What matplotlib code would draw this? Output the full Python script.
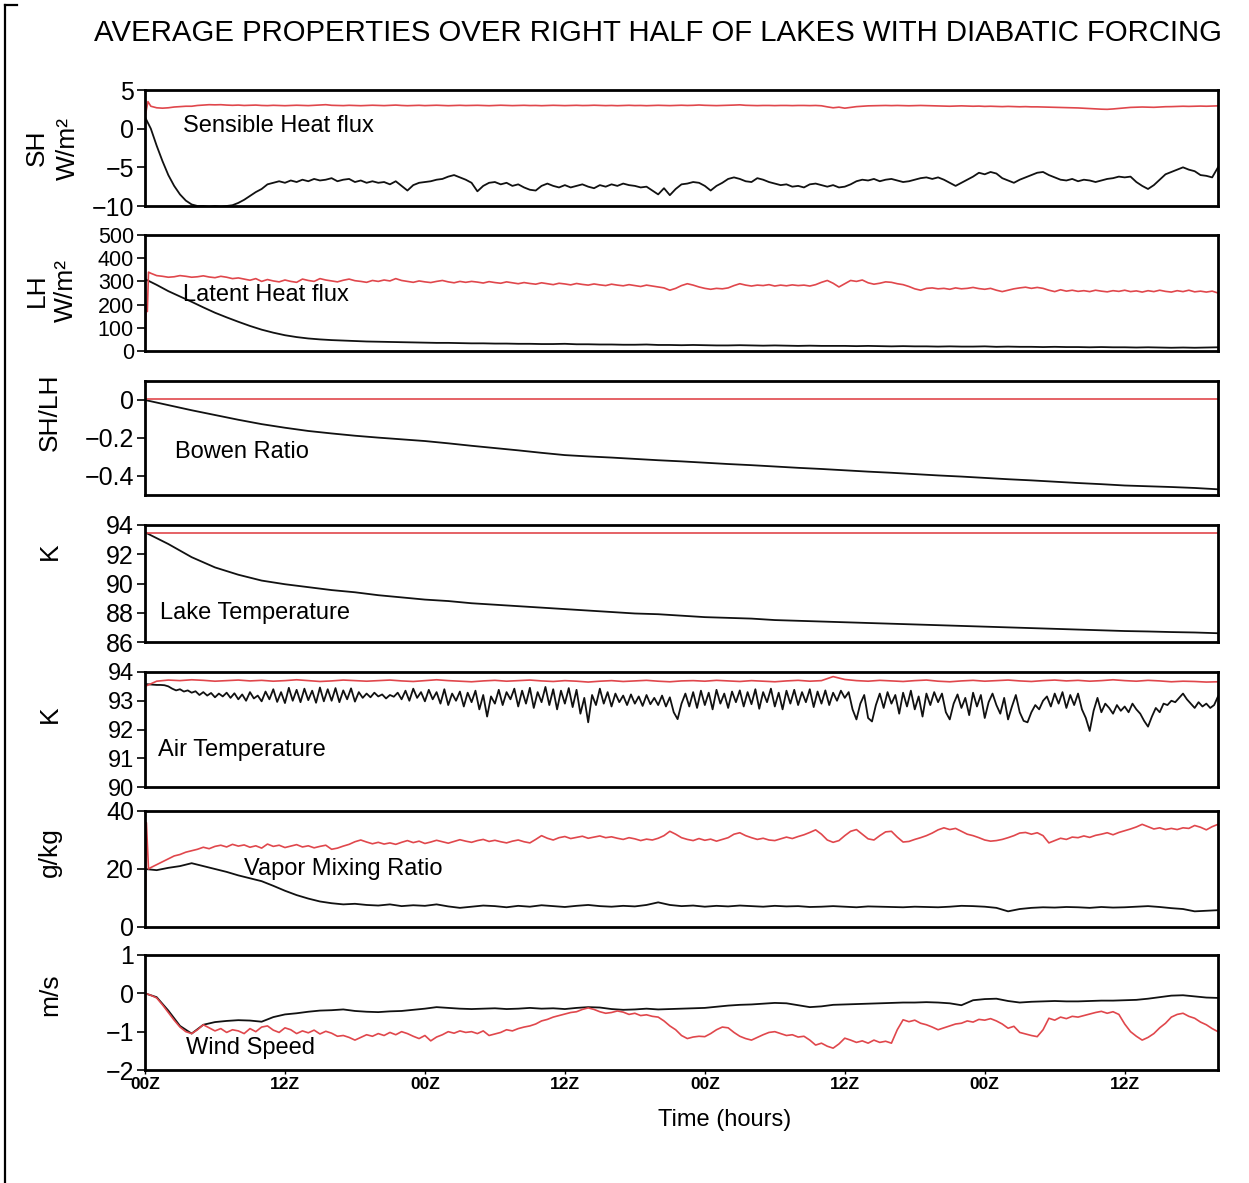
"""Average properties over right half of lakes with diabatic forcing (7 stacked panels)."""

import matplotlib

matplotlib.use("Agg")
import matplotlib.pyplot as plt
import numpy as np
from matplotlib.lines import Line2D

# ---------------------------------------------------------------- time grids (hours since 00Z)
HALF = np.arange(0, 92.01, 0.5)       # 185 points
HALF_FROM = HALF[1:]                  # 184 points, from 0.5 h
FULL = np.arange(0, 93, 1.0)          # 93 points
TWO = np.arange(0, 93, 2.0)           # 47 points
THIRD = np.arange(277) / 3.0          # 277 points

XTICK_HOURS = [0, 12, 24, 36, 48, 60, 72, 84]
XTICK_LABELS = ["00Z", "12Z", "00Z", "12Z", "00Z", "12Z", "00Z", "12Z"]

# ---------------------------------------------------------------- sensible heat flux (W/m2)
SH_RED_START_H = [0.0, 0.25]
SH_RED_START = [1.5, 3.5]
SH_RED = [
    2.9, 2.7, 2.65, 2.7, 2.8, 2.85, 2.9, 2.9,
    3.0, 3.05, 3.1, 3.08, 3.1, 3.05, 3.02, 3.05,
    3.0, 3.02, 3.05, 3.0, 2.98, 3.02, 3.0, 2.97,
    3.0, 3.03, 3.0, 2.98, 3.02, 3.05, 3.1, 3.02,
    3.0, 2.98, 3.02, 3.0, 2.97, 3.0, 3.03, 3.0,
    2.98, 3.02, 3.05, 3.0, 2.97, 3.0, 3.02, 2.98,
    3.0, 3.03, 3.0, 2.97, 3.0, 3.02, 2.99, 3.0,
    3.02, 3.0, 2.97, 3.0, 3.03, 3.0, 2.98, 3.0,
    3.02, 2.99, 3.0, 2.97, 3.0, 3.02, 3.0, 2.98,
    3.0, 3.02, 2.99, 3.0, 3.03, 3.0, 2.98, 3.0,
    2.97, 3.0, 3.02, 2.99, 3.0, 2.97, 3.0, 3.02,
    3.0, 2.98, 3.0, 3.03, 3.0, 3.02, 3.06, 3.02,
    3.0, 2.98, 3.0, 3.02, 3.05, 3.08, 3.02, 3.0,
    2.98, 3.0, 3.0, 2.98, 3.0, 3.0, 2.98, 3.0,
    3.0, 2.98, 3.0, 2.96, 2.82, 2.7, 2.78, 2.65,
    2.75, 2.85, 2.9, 2.95, 2.97, 2.98, 3.0, 2.98,
    3.0, 2.98, 2.96, 2.98, 3.0, 2.98, 2.96, 2.95,
    2.92, 2.9, 2.93, 2.95, 2.92, 2.9, 2.92, 2.88,
    2.9, 2.87, 2.85, 2.88, 2.86, 2.83, 2.85, 2.82,
    2.82, 2.8, 2.78, 2.76, 2.74, 2.72, 2.7, 2.68,
    2.64, 2.6, 2.55, 2.52, 2.5, 2.55, 2.62, 2.7,
    2.75, 2.78, 2.8, 2.78, 2.76, 2.8, 2.84, 2.85,
    2.88, 2.9, 2.88, 2.9, 2.92, 2.9, 2.92, 2.95,
]
SH_BLACK = [
    1.5, 0.0, -2.2, -4.2, -6.0, -7.4, -8.5, -9.3,
    -9.8, -10.0, -10.0, -10.1, -10.0, -10.1, -10.0, -9.9,
    -9.6, -9.2, -8.7, -8.2, -7.8, -7.2, -7.0, -6.8,
    -7.0, -6.7, -6.9, -6.6, -6.8, -6.5, -6.7, -6.6,
    -6.4, -6.8, -6.6, -6.5, -6.9, -6.7, -7.0, -6.8,
    -7.0, -6.9, -7.2, -6.8, -7.4, -8.0, -7.3, -7.0,
    -6.9, -6.8, -6.6, -6.5, -6.2, -6.0, -6.3, -6.6,
    -7.0, -8.1, -7.4, -7.0, -6.9, -7.2, -7.0, -7.4,
    -7.2, -7.6, -7.9, -8.0, -7.4, -7.1, -7.4, -7.6,
    -7.3, -7.6, -7.4, -7.2, -7.5, -7.7, -7.3, -7.5,
    -7.2, -7.4, -7.1, -7.3, -7.4, -7.6, -7.5, -8.0,
    -8.5, -7.7, -8.6, -7.8, -7.2, -7.1, -6.9, -7.0,
    -7.4, -8.0, -7.4, -7.0, -6.5, -6.3, -6.5, -6.8,
    -6.9, -6.4, -6.6, -6.9, -7.1, -7.3, -7.2, -7.5,
    -7.4, -7.6, -7.2, -7.1, -7.3, -7.5, -7.3, -7.6,
    -7.5, -7.2, -6.8, -6.6, -6.7, -6.5, -6.8, -6.6,
    -6.5, -6.7, -6.9, -6.8, -6.6, -6.4, -6.3, -6.5,
    -6.3, -6.6, -7.0, -7.4, -7.0, -6.6, -6.2, -5.7,
    -5.9, -5.6, -5.8, -6.4, -6.7, -7.0, -6.6, -6.3,
    -6.0, -5.7, -5.6, -6.0, -6.3, -6.6, -6.7, -6.5,
    -6.8, -6.6, -6.7, -6.9, -6.7, -6.5, -6.4, -6.2,
    -6.3, -6.2, -6.9, -7.4, -7.8, -7.3, -6.6, -5.9,
    -5.6, -5.3, -5.0, -5.3, -5.5, -6.0, -6.1, -6.3,
    -5.0,
]

# ---------------------------------------------------------------- latent heat flux (W/m2)
LH_RED_START_H = [0.0, 0.1, 0.2, 0.3]
LH_RED_START = [0, 200, 170, 340]
LH_RED = [
    335, 325, 322, 318, 320, 325, 322, 318,
    320, 324, 319, 316, 322, 318, 312, 315,
    310, 305, 312, 300, 308, 302, 298, 306,
    300, 296, 310, 304, 300, 312, 306, 302,
    298, 305, 310, 303, 300, 296, 304, 300,
    306, 302, 312, 304, 300, 296, 302, 298,
    295, 300, 304, 298, 294, 300, 296, 300,
    297, 293, 299, 295, 292, 298, 294, 290,
    295, 291, 288, 294, 290, 286, 292, 289,
    285, 291, 287, 284, 289, 285, 282, 288,
    284, 281, 286, 282, 278, 284, 280, 276,
    272, 262, 270, 282, 290, 284, 276, 270,
    266, 270, 268, 272, 282, 290, 284, 280,
    284, 282, 286, 280, 284, 281, 285, 282,
    284, 280, 286, 296, 304, 292, 276, 290,
    304, 300, 306, 294, 288, 292, 298, 296,
    290, 286, 278, 268, 262, 270, 272, 268,
    270, 266, 272, 268, 270, 274, 269, 266,
    270, 262, 256, 262, 268, 272, 275, 270,
    274, 270, 262, 256, 264, 258, 262, 257,
    260, 256, 262, 258, 255, 260, 257, 262,
    256, 259, 254, 260, 256, 262, 257, 254,
    260, 256, 262, 255, 258, 254, 258, 250,
]
LH_BLACK = [
    310, 285, 258, 235, 212, 188, 165, 145, 126, 108,
    92, 79, 68, 60, 54, 50, 47, 45, 43, 41,
    40, 39, 38, 37, 36, 35, 35, 34, 33, 33,
    32, 32, 31, 31, 30, 30, 31, 29, 29, 28,
    28, 27, 27, 28, 26, 26, 25, 26, 25, 24,
    24, 25, 24, 23, 24, 23, 22, 23, 22, 22,
    22, 21, 22, 21, 20, 21, 20, 20, 19, 20,
    19, 19, 20, 18, 19, 18, 18, 17, 18, 17,
    17, 16, 17, 16, 16, 15, 16, 15, 14, 15,
    14, 15, 16,
]

# ---------------------------------------------------------------- Bowen ratio (SH/LH)
BOWEN_RED = [0.005] * 47
BOWEN_BLACK = [
    0.0, -0.027, -0.054, -0.079, -0.104, -0.127, -0.146, -0.163, -0.176, -0.188,
    -0.198, -0.207, -0.216, -0.228, -0.241, -0.253, -0.265, -0.278, -0.29, -0.297,
    -0.303, -0.31, -0.317, -0.323, -0.33, -0.337, -0.343, -0.35, -0.357, -0.363,
    -0.37, -0.377, -0.383, -0.39, -0.397, -0.403, -0.41, -0.417, -0.423, -0.43,
    -0.437, -0.443, -0.45, -0.454, -0.458, -0.463, -0.47,
]

# ---------------------------------------------------------------- lake temperature (K)
LAKE_RED = [93.45] * 47
LAKE_BLACK = [
    93.5, 92.7, 91.8, 91.1, 90.6, 90.2, 89.95, 89.75, 89.55, 89.4,
    89.2, 89.05, 88.9, 88.8, 88.65, 88.55, 88.45, 88.35, 88.25, 88.15,
    88.05, 87.95, 87.9, 87.8, 87.7, 87.65, 87.6, 87.5, 87.45, 87.4,
    87.35, 87.3, 87.25, 87.2, 87.15, 87.1, 87.05, 87.0, 86.95, 86.9,
    86.85, 86.8, 86.75, 86.72, 86.68, 86.65, 86.6,
]

# ---------------------------------------------------------------- air temperature (K)
AIR_RED = [
    93.50, 93.68, 93.72, 93.70, 93.73, 93.71, 93.68, 93.70, 93.72, 93.69,
    93.71, 93.68, 93.70, 93.73, 93.70, 93.67, 93.69, 93.72, 93.70, 93.68,
    93.70, 93.72, 93.69, 93.67, 93.70, 93.73, 93.70, 93.68, 93.66, 93.69,
    93.71, 93.68, 93.70, 93.72, 93.69, 93.67, 93.70, 93.68, 93.65, 93.68,
    93.70, 93.67, 93.69, 93.71, 93.68, 93.66, 93.69, 93.70, 93.68, 93.71,
    93.69, 93.67, 93.70, 93.68, 93.66, 93.69, 93.71, 93.68, 93.70, 93.84,
    93.74, 93.70, 93.68, 93.71, 93.69, 93.67, 93.70, 93.72, 93.68, 93.66,
    93.69, 93.71, 93.68, 93.70, 93.72, 93.69, 93.67, 93.70, 93.72, 93.69,
    93.71, 93.68, 93.70, 93.73, 93.70, 93.68, 93.71, 93.69, 93.66, 93.68,
    93.67, 93.65, 93.66,
]
AIR_BLACK = [
    93.58, 93.57, 93.56, 93.55, 93.55, 93.54, 93.50, 93.42, 93.36, 93.40, 93.32, 93.36,
    93.28, 93.33, 93.20, 93.30, 93.18, 93.27, 93.12, 93.25, 93.15, 93.28, 93.10, 93.26,
    93.05, 93.22, 93.00, 93.30, 93.08, 93.18, 92.98, 93.32, 93.05, 93.40, 92.96, 93.30,
    92.92, 93.45, 93.00, 93.38, 92.95, 93.42, 93.02, 93.35, 92.93, 93.46, 92.98, 93.40,
    93.00, 93.44, 92.95, 93.36, 93.05, 93.43, 92.97, 93.30, 93.10, 93.25, 93.12, 93.28,
    93.15, 93.22, 93.08, 93.20, 93.14, 93.28, 93.05, 93.35, 93.00, 93.42, 93.10, 93.30,
    92.98, 93.38, 93.05, 93.30, 92.90, 93.40, 92.85, 93.25, 93.00, 93.32, 92.80, 93.28,
    92.95, 93.35, 92.70, 93.20, 92.45, 93.15, 92.90, 93.38, 92.85, 93.30, 93.05, 93.42,
    92.80, 93.35, 92.90, 93.45, 92.75, 93.30, 92.95, 93.48, 92.85, 93.40, 92.70, 93.35,
    92.90, 93.44, 92.78, 93.38, 92.55, 93.10, 92.25, 93.20, 92.85, 93.42, 92.90, 93.30,
    92.80, 93.25, 92.95, 93.18, 92.85, 93.22, 92.90, 93.15, 92.82, 93.20, 92.88, 93.10,
    92.85, 93.18, 92.80, 93.12, 92.60, 92.36, 92.90, 93.25, 92.80, 93.30, 92.75, 93.35,
    92.85, 93.28, 92.70, 93.38, 92.90, 93.25, 92.75, 93.32, 92.95, 93.36, 92.80, 93.30,
    92.88, 93.40, 92.72, 93.30, 92.95, 93.42, 92.80, 93.28, 92.70, 93.35, 92.90, 93.38,
    92.85, 93.30, 92.95, 93.40, 92.78, 93.32, 92.90, 93.36, 92.85, 93.28, 93.00, 93.35,
    93.10, 93.30, 92.70, 92.35, 92.90, 93.20, 92.40, 92.28, 92.85, 93.25, 92.75, 93.30,
    92.90, 93.20, 92.55, 93.28, 92.80, 93.35, 92.70, 93.15, 92.45, 93.25, 92.85, 93.30,
    92.95, 93.25, 92.60, 92.35, 92.90, 93.22, 92.75, 93.10, 92.50, 93.28, 92.80, 93.20,
    92.40, 92.95, 93.25, 92.85, 92.55, 93.10, 92.35, 92.80, 93.20, 92.60, 92.30, 92.25,
    92.60, 92.85, 92.70, 93.00, 93.15, 92.80, 93.25, 92.90, 93.30, 92.75, 93.20, 92.85,
    93.25, 92.70, 92.40, 91.95, 92.65, 93.10, 92.60, 92.90, 92.75, 92.55, 92.85, 92.65,
    92.80, 92.60, 92.90, 92.70, 92.55, 92.30, 92.10, 92.45, 92.75, 92.60, 92.90, 92.85,
    93.00, 92.95, 93.10, 93.25, 93.05, 92.90, 92.75, 92.95, 92.80, 92.90, 92.75, 92.85,
    93.15,
]

# ---------------------------------------------------------------- vapor mixing ratio (g/kg)
VAP_RED_START_H = [0.0, 0.12, 0.3]
VAP_RED_START = [0.0, 36.0, 20.0]
VAP_RED = [
    20.5, 21.5, 22.5, 23.5, 24.5, 25.0, 25.8, 26.3,
    26.8, 27.5, 27.0, 27.8, 28.2, 27.6, 28.5, 27.9,
    28.3, 27.5, 28.0, 27.2, 28.6, 27.8, 28.2, 27.4,
    27.9, 28.4, 27.6, 28.0, 27.3, 27.8, 28.2, 26.8,
    27.2, 27.9, 28.5, 29.4, 30.0, 29.3, 28.7, 29.2,
    28.6, 29.0, 28.5, 29.2, 29.8, 29.1, 29.6, 28.8,
    29.3, 29.9, 29.4, 28.9, 29.5, 30.1, 29.6, 29.2,
    29.8, 30.2, 29.5, 29.9, 29.4, 29.0, 29.6, 30.0,
    29.4, 29.0, 30.2, 31.5, 30.6, 30.0, 30.8, 31.2,
    30.5, 30.9, 31.3, 30.6, 31.0, 31.4, 30.8, 31.1,
    30.6, 30.2, 30.8, 30.4, 29.8, 30.3, 30.0, 30.6,
    31.5, 33.0, 32.0, 30.8, 30.2, 29.8, 30.5, 29.9,
    30.3, 29.6, 30.2, 30.8, 32.0, 32.5, 31.5, 30.8,
    30.2, 30.6, 30.0, 29.8, 30.4, 31.0, 30.5, 31.2,
    31.8, 32.6, 33.5, 32.0, 30.0, 29.2, 29.8, 31.5,
    33.0, 33.6, 32.0, 30.4, 30.0, 31.5, 32.8, 33.0,
    31.0, 29.3, 29.5, 30.2, 30.8, 31.5, 32.4, 33.5,
    34.2, 33.6, 34.0, 33.0, 32.0, 31.5, 30.8, 30.0,
    29.6, 29.8, 30.2, 30.8, 31.5, 32.4, 32.6, 32.0,
    32.5, 31.5, 29.0, 29.8, 30.6, 30.2, 31.0, 30.8,
    31.4, 30.9, 31.6, 32.0, 32.5, 31.8, 32.6, 33.2,
    33.8, 34.5, 35.4, 34.6, 33.8, 34.2, 33.6, 34.0,
    33.6, 34.2, 34.0, 35.0, 34.4, 33.5, 34.6, 35.4,
]
VAP_BLACK = [
    20.0, 19.6, 20.4, 21.0, 22.0, 21.0, 20.0, 19.0, 17.8, 16.8,
    15.8, 14.2, 12.5, 11.0, 9.8, 8.8, 8.2, 7.8, 8.0, 7.6,
    7.4, 7.8, 7.2, 7.5, 7.3, 7.8, 7.1, 6.6, 7.0, 7.4,
    7.2, 6.8, 7.3, 7.0, 7.5, 7.2, 6.9, 7.3, 7.6, 7.2,
    7.0, 7.3, 7.1, 7.6, 8.5, 7.6, 7.2, 7.4, 7.0, 7.3,
    7.1, 7.4, 7.2, 7.0, 7.3, 7.1, 7.2, 6.9, 7.0, 7.2,
    7.0, 6.8, 7.1, 7.0, 6.9, 6.8, 7.0, 6.9, 6.8, 7.0,
    7.3, 7.2, 7.0, 6.6, 5.4, 6.2, 6.6, 6.8, 6.7, 6.9,
    6.8, 6.6, 6.9, 6.7, 6.8, 7.0, 7.2, 6.9, 6.5, 6.2,
    5.4, 5.6, 5.8,
]

# ---------------------------------------------------------------- wind speed (m/s)
WIND_RED = [
    0.0, -0.05, -0.12, -0.30, -0.50, -0.70, -0.88, -1.0,
    -1.05, -0.95, -0.82, -0.90, -0.98, -0.92, -1.02, -0.95,
    -0.98, -1.05, -0.92, -1.0, -0.88, -0.85, -0.96, -1.02,
    -0.90, -0.95, -1.05, -0.98, -1.03, -0.96, -1.06, -0.99,
    -1.04, -1.12, -1.10, -1.15, -1.22, -1.15, -1.08, -1.12,
    -1.05, -1.10, -1.02, -1.08, -1.0, -1.05, -1.12, -1.18,
    -1.10, -1.24, -1.14, -1.08, -1.0, -1.04, -0.98, -1.02,
    -1.0, -1.05, -0.98, -1.10, -1.06, -1.02, -0.95, -0.98,
    -0.92, -0.88, -0.85, -0.80, -0.72, -0.68, -0.62, -0.58,
    -0.54, -0.50, -0.48, -0.42, -0.38, -0.42, -0.48, -0.52,
    -0.50, -0.46, -0.49, -0.55, -0.52, -0.58, -0.56, -0.60,
    -0.62, -0.72, -0.85, -0.95, -1.10, -1.18, -1.14, -1.12,
    -1.13, -1.05, -0.95, -0.88, -0.90, -1.02, -1.12, -1.18,
    -1.22, -1.15, -1.08, -1.02, -1.0, -1.05, -1.10, -1.08,
    -1.14, -1.12, -1.22, -1.35, -1.30, -1.38, -1.43, -1.32,
    -1.17, -1.22, -1.28, -1.24, -1.30, -1.22, -1.28, -1.25,
    -1.30, -0.95, -0.69, -0.74, -0.70, -0.78, -0.82, -0.88,
    -0.95, -0.90, -0.85, -0.80, -0.78, -0.72, -0.75, -0.68,
    -0.70, -0.66, -0.72, -0.80, -0.91, -0.86, -1.02, -1.06,
    -1.10, -1.13, -0.95, -0.65, -0.70, -0.62, -0.66, -0.60,
    -0.62, -0.58, -0.54, -0.50, -0.47, -0.52, -0.48, -0.55,
    -0.80, -1.0, -1.12, -1.22, -1.15, -1.05, -0.90, -0.78,
    -0.62, -0.55, -0.52, -0.60, -0.65, -0.75, -0.82, -0.92,
    -1.0,
]
WIND_BLACK = [
    0.0, -0.1, -0.45, -0.85, -1.05, -0.82, -0.75, -0.72, -0.70, -0.71,
    -0.74, -0.62, -0.55, -0.52, -0.48, -0.45, -0.44, -0.42, -0.46, -0.48,
    -0.49, -0.47, -0.46, -0.43, -0.40, -0.36, -0.38, -0.40, -0.41, -0.40,
    -0.39, -0.41, -0.40, -0.38, -0.40, -0.39, -0.41, -0.38, -0.36, -0.37,
    -0.41, -0.43, -0.42, -0.40, -0.42, -0.41, -0.40, -0.39, -0.38, -0.35,
    -0.32, -0.30, -0.29, -0.27, -0.25, -0.26, -0.31, -0.36, -0.34, -0.30,
    -0.29, -0.28, -0.27, -0.26, -0.25, -0.24, -0.24, -0.23, -0.24, -0.26,
    -0.31, -0.18, -0.15, -0.14, -0.20, -0.24, -0.22, -0.21, -0.20, -0.21,
    -0.21, -0.20, -0.19, -0.19, -0.18, -0.17, -0.14, -0.10, -0.06, -0.05,
    -0.08, -0.11, -0.12,
]

RED = "#e0474c"
BLACK = "#111111"
W, H = 1249, 1183

plt.rcParams["font.family"] = ["Liberation Sans", "DejaVu Sans"]
plt.rcParams["axes.unicode_minus"] = True


def fx(px):
    return px / W


def fy(py):
    return 1 - py / H


def make_axes(fig, top, bottom):
    ax = fig.add_axes([fx(145), fy(bottom), fx(1218) - fx(145), fy(top) - fy(bottom)])
    for sp in ax.spines.values():
        sp.set_linewidth(2.0)
    ax.set_xlim(0, 92)
    ax.tick_params(axis="y", direction="out", length=6, width=1.2, pad=2)
    ax.tick_params(axis="x", bottom=False, labelbottom=False)
    return ax


def set_yticks(ax, ticks, labels, lim, size=18):
    ax.set_ylim(*lim)
    ax.set_yticks(ticks)
    ax.set_yticklabels(labels, fontsize=size)


fig = plt.figure(figsize=(W / 100, H / 100), dpi=100)

# panel pixel extents: (top, bottom)
panels = [(90, 206), (235, 351), (381, 495), (525, 642), (672, 787), (811, 927), (955, 1070)]
axes = [make_axes(fig, t, b) for t, b in panels]

# 1 sensible heat
ax = axes[0]
ax.plot(HALF, SH_BLACK, color=BLACK, lw=1.3)
ax.plot(np.concatenate([SH_RED_START_H, HALF_FROM]), SH_RED_START + SH_RED, color=RED, lw=1.2)
set_yticks(ax, [-10, -5, 0, 5], ["\u221210", "\u22125", "0", "5"], (-10, 5))
ax.text(0.035, 0.69, "Sensible Heat flux", transform=ax.transAxes, fontsize=17, va="center")

# 2 latent heat
ax = axes[1]
ax.plot(FULL, LH_BLACK, color=BLACK, lw=1.3)
ax.plot(np.concatenate([LH_RED_START_H, HALF_FROM]), LH_RED_START + LH_RED, color=RED, lw=1.2)
set_yticks(ax, [0, 100, 200, 300, 400, 500], ["0", "100", "200", "300", "400", "500"],
           (0, 500), size=15.5)
ax.text(0.035, 0.48, "Latent Heat flux", transform=ax.transAxes, fontsize=17, va="center")

# 3 Bowen ratio
ax = axes[2]
ax.plot(TWO, BOWEN_BLACK, color=BLACK, lw=1.3)
ax.plot(TWO, BOWEN_RED, color=RED, lw=1.2)
set_yticks(ax, [-0.4, -0.2, 0], ["\u22120.4", "\u22120.2", "0"], (-0.5, 0.1))
ax.text(0.028, 0.377, "Bowen Ratio", transform=ax.transAxes, fontsize=17, va="center")

# 4 lake temperature
ax = axes[3]
ax.plot(TWO, LAKE_BLACK, color=BLACK, lw=1.3)
ax.plot(TWO, LAKE_RED, color=RED, lw=1.2)
set_yticks(ax, [86, 88, 90, 92, 94], ["86", "88", "90", "92", "94"], (86, 94))
ax.text(0.014, 0.248, "Lake Temperature", transform=ax.transAxes, fontsize=17, va="center")

# 5 air temperature
ax = axes[4]
ax.plot(THIRD, AIR_BLACK, color=BLACK, lw=1.3)
ax.plot(FULL, AIR_RED, color=RED, lw=1.2)
set_yticks(ax, [90, 91, 92, 93, 94], ["90", "91", "92", "93", "94"], (90, 94), size=17)
ax.text(0.012, 0.32, "Air Temperature", transform=ax.transAxes, fontsize=17, va="center")

# 6 vapor mixing ratio
ax = axes[5]
ax.plot(FULL, VAP_BLACK, color=BLACK, lw=1.3)
ax.plot(np.concatenate([VAP_RED_START_H, HALF_FROM]), VAP_RED_START + VAP_RED, color=RED, lw=1.2)
set_yticks(ax, [0, 20, 40], ["0", "20", "40"], (0, 40))
ax.text(0.092, 0.5, "Vapor Mixing Ratio", transform=ax.transAxes, fontsize=17, va="center")

# 7 wind speed
ax = axes[6]
ax.plot(FULL, WIND_BLACK, color=BLACK, lw=1.3)
ax.plot(HALF, WIND_RED, color=RED, lw=1.2)
set_yticks(ax, [-2, -1, 0, 1], ["\u22122", "\u22121", "0", "1"], (-2, 1))
ax.text(0.038, 0.19, "Wind Speed", transform=ax.transAxes, fontsize=17, va="center")
ax.tick_params(axis="x", bottom=True, labelbottom=True, direction="out", length=3, width=1, pad=2)
ax.set_xticks(XTICK_HOURS)
ax.set_xticklabels(XTICK_LABELS, fontsize=12.5, fontweight="bold")

# y-axis unit labels
ylab = dict(rotation=90, ha="center", va="center", fontsize=19)
fig.text(fx(37), fy(148), "SH", **ylab)
fig.text(fx(68), fy(148), "W/m\u00b2", **ylab)
fig.text(fx(37), fy(290), "LH", **ylab)
fig.text(fx(66), fy(290), "W/m\u00b2", **ylab)
fig.text(fx(50), fy(412), "SH/LH", **ylab)
fig.text(fx(50), fy(551), "K", **ylab)
fig.text(fx(50), fy(714), "K", **ylab)
fig.text(fx(50), fy(852), "g/kg", **ylab)
fig.text(fx(50), fy(995), "m/s", **ylab)

fig.text(fx(725), fy(1120), "Time (hours)", ha="center", va="center", fontsize=17)
fig.text(fx(658), fy(33), "AVERAGE PROPERTIES OVER RIGHT HALF OF LAKES WITH DIABATIC FORCING",
         ha="center", va="center", fontsize=21.2)

# outer frame fragments
fig.add_artist(Line2D([fx(5), fx(5)], [fy(5), 0], transform=fig.transFigure, color="black", lw=1.6))
fig.add_artist(Line2D([fx(5), fx(17)], [fy(5), fy(5)], transform=fig.transFigure, color="black", lw=1.6))

fig.savefig("out.png", dpi=100, facecolor="white")
